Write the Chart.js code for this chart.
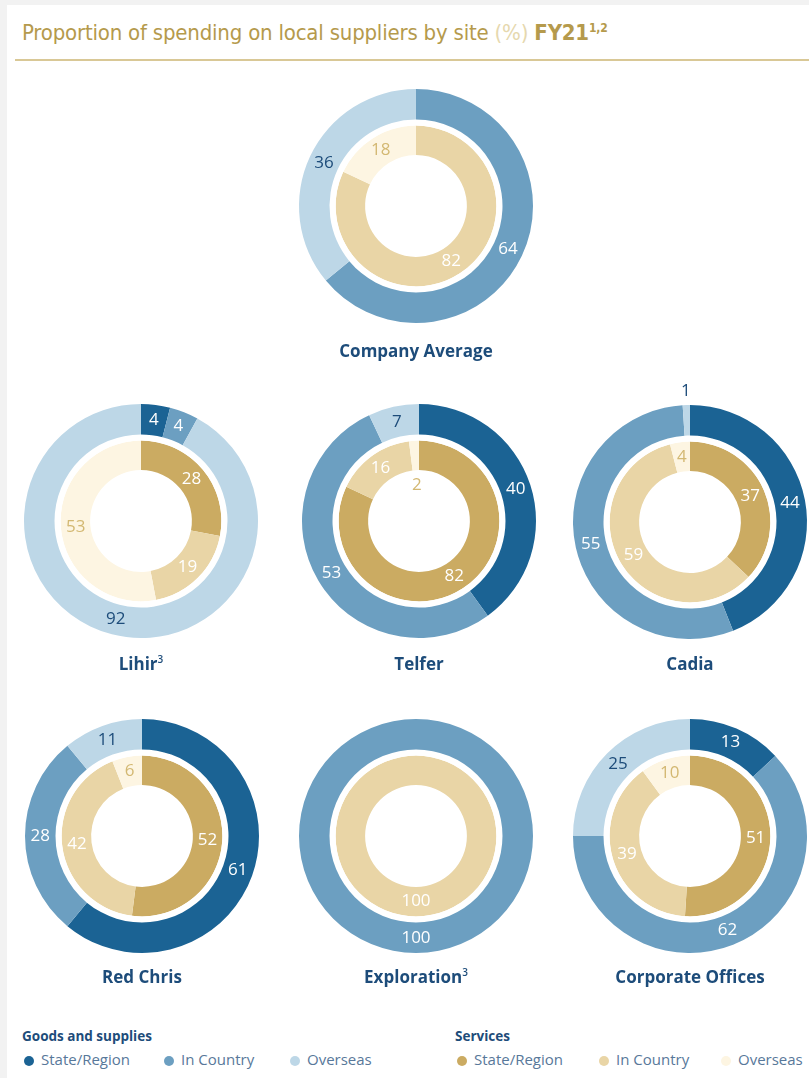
<!DOCTYPE html>
<html>
<head>
<meta charset="utf-8">
<script src="https://cdn.jsdelivr.net/npm/chart.js@4.4.1/dist/chart.umd.min.js"></script>
<style>
  html, body { margin: 0; padding: 0; }
  body { width: 809px; height: 1078px; background: #f2f2f2; overflow: hidden; position: relative; font-family: "Open Sans", sans-serif; }
  .panel { position: absolute; left: 7px; top: 5px; right: 0; bottom: 0; background: #fff; }
  .title { position: absolute; left: 22px; top: 20px; font-family: "Liberation Sans Narrow", "DejaVu Sans Condensed", sans-serif; font-size: 22px; color: #b59a4c; white-space: nowrap; letter-spacing: -0.2px; }
  .title .pct { color: #e6d8ae; }
  .title .fy { font-weight: bold; }
  .title sup { font-size: 12px; }
  .rule { position: absolute; left: 15px; right: 0; top: 59px; height: 2px; background: #d9c896; }
  .chart { position: absolute; width: 280px; height: 280px; }
  .name { position: absolute; width: 260px; text-align: center; font-weight: 700; font-size: 17px; color: #1d4c7a; white-space: nowrap; }
  .name sup { font-size: 10px; font-weight: 600; }
  .legend-title { position: absolute; font-weight: 700; font-size: 13.5px; color: #1d4c7a; }
  .legend-item { position: absolute; font-size: 15px; color: #58789a; white-space: nowrap; }
  .legend-item i { display: inline-block; width: 10px; height: 10px; border-radius: 50%; margin-right: 7px; vertical-align: -0.5px; }
</style>
</head>
<body>
<div class="panel"></div>
<div class="title">Proportion of spending on local suppliers by site <span class="pct">(%)</span> <span class="fy">FY21<sup>1,2</sup></span></div>
<div class="rule"></div>
<div id="charts"></div>
<div id="legend"></div>

<script>
// ========== データ ==========
const sites = ['Company Average', 'Lihir', 'Telfer', 'Cadia', 'Red Chris', 'Exploration', 'Corporate Offices'];
const siteNotes = ['', '3', '', '', '', '3', ''];
const segmentLabels = ['State/Region', 'In Country', 'Overseas'];

// goods and supplies (outer ring)
const goodsState = [0, 4, 40, 44, 61, 0, 13];
const goodsCountry = [64, 4, 53, 55, 28, 100, 62];
const goodsOverseas = [36, 92, 7, 1, 11, 0, 25];

// services (inner ring)
const servicesState = [0, 28, 82, 37, 52, 0, 51];
const servicesCountry = [82, 19, 16, 59, 42, 100, 39];
const servicesOverseas = [18, 53, 2, 4, 6, 0, 10];

// ========== 見た目 ==========
const goodsColors = ['#1b6394', '#6c9fc1', '#bdd7e7'];
const servicesColors = ['#cbab62', '#e9d5a6', '#fdf5e2'];
const goodsText = ['#ffffff', '#ffffff', '#1d4c7a'];
const servicesText = ['#ffffff', '#ffffff', '#d3b872'];

// chart centers and name positions
const layout = [
  { cx: 416, cy: 206, ny: 339 },
  { cx: 141, cy: 521, ny: 652 },
  { cx: 419, cy: 521, ny: 652 },
  { cx: 690, cy: 522, ny: 652 },
  { cx: 142, cy: 836, ny: 965 },
  { cx: 416, cy: 836, ny: 965 },
  { cx: 690, cy: 836, ny: 965 },
];

// ========== ラベル描画プラグイン ==========
const arcLabels = {
  id: 'arcLabels',
  afterDatasetsDraw(chart) {
    const ctx = chart.ctx;
    ctx.save();
    ctx.font = '17px "Open Sans", sans-serif';
    ctx.textAlign = 'center';
    ctx.textBaseline = 'middle';
    chart.data.datasets.forEach((ds, di) => {
      if (!ds.textColors) return;
      const meta = chart.getDatasetMeta(di);
      meta.data.forEach((arc, i) => {
        const v = ds.data[i];
        if (!v) return;
        const p = arc.getProps(['x', 'y', 'startAngle', 'endAngle', 'innerRadius', 'outerRadius'], true);
        const mid = (p.startAngle + p.endAngle) / 2;
        let r = (p.innerRadius + p.outerRadius) / 2;
        let color = ds.textColors[i];
        if (v < 3) {
          // tiny slices: label outside the outer ring or inside the hole
          if (ds.ring === 'outer') { r = p.outerRadius + 14; color = '#1d4c7a'; }
          else { r = p.innerRadius - 15; color = '#d3b872'; }
        }
        ctx.fillStyle = color;
        ctx.fillText(String(v), p.x + Math.cos(mid) * r, p.y + Math.sin(mid) * r);
      });
    });
    ctx.restore();
  }
};

// ========== 描画 ==========
function renderCharts() {
  const root = document.getElementById('charts');
  sites.forEach((site, k) => {
    const pos = layout[k];
    const wrap = document.createElement('div');
    wrap.className = 'chart';
    wrap.style.left = (pos.cx - 140) + 'px';
    wrap.style.top = (pos.cy - 140) + 'px';
    wrap.innerHTML = '<canvas width="280" height="280"></canvas>';
    root.appendChild(wrap);

    const name = document.createElement('div');
    name.className = 'name';
    name.style.left = (pos.cx - 130) + 'px';
    name.style.top = (pos.ny) + 'px';
    name.innerHTML = site + (siteNotes[k] ? `<sup>${siteNotes[k]}</sup>` : '');
    root.appendChild(name);

    new Chart(wrap.querySelector('canvas'), {
      type: 'doughnut',
      data: {
        labels: segmentLabels,
        datasets: [
          {
            label: 'Goods and supplies',
            ring: 'outer',
            data: [goodsState[k], goodsCountry[k], goodsOverseas[k]],
            backgroundColor: goodsColors,
            textColors: goodsText,
            borderWidth: 0,
            weight: 30,
          },
          {
            label: 'gap',
            data: [1],
            backgroundColor: ['#ffffff'],
            borderWidth: 0,
            weight: 6,
          },
          {
            label: 'Services',
            ring: 'inner',
            data: [servicesState[k], servicesCountry[k], servicesOverseas[k]],
            backgroundColor: servicesColors,
            textColors: servicesText,
            borderWidth: 0,
            weight: 29,
          },
        ],
      },
      options: {
        responsive: false,
        animation: false,
        events: [],
        cutout: '43.5%',
        layout: { padding: 23 },
        plugins: { legend: { display: false }, tooltip: { enabled: false } },
      },
      plugins: [arcLabels],
    });
  });
}

function renderLegend() {
  const root = document.getElementById('legend');
  const groups = [
    { title: 'Goods and supplies', x: 22, colors: goodsColors, xs: [24, 164, 290] },
    { title: 'Services', x: 455, colors: servicesColors, xs: [457, 599, 721] },
  ];
  groups.forEach(g => {
    const t = document.createElement('div');
    t.className = 'legend-title';
    t.style.left = g.x + 'px';
    t.style.top = '1027px';
    t.textContent = g.title;
    root.appendChild(t);
    segmentLabels.forEach((lab, i) => {
      const it = document.createElement('div');
      it.className = 'legend-item';
      it.style.left = g.xs[i] + 'px';
      it.style.top = '1049px';
      it.innerHTML = `<i style="background:${g.colors[i]}"></i>${lab}`;
      root.appendChild(it);
    });
  });
}

renderCharts();
renderLegend();
</script>
</body>
</html>
